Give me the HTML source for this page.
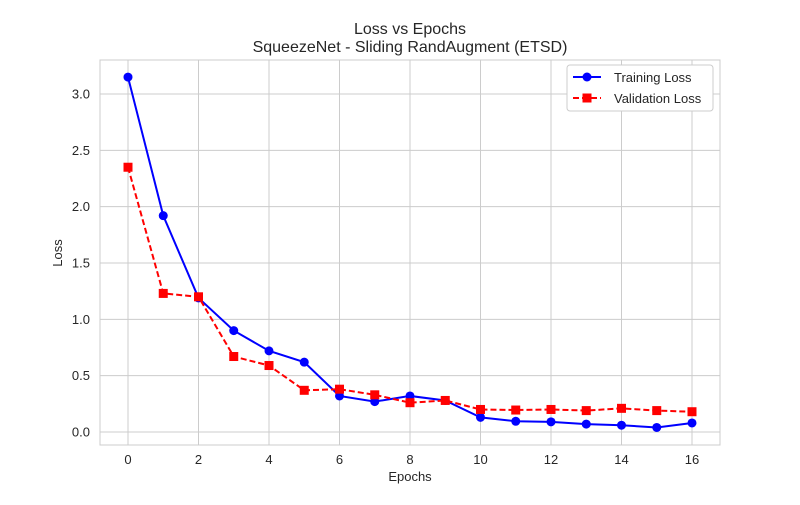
<!DOCTYPE html>
<html><head><meta charset="utf-8"><style>
body{margin:0;background:#fff;}
svg text{font-family:"Liberation Sans",Arial,sans-serif;fill:#262626;}
</style></head><body>
<svg id="chart" width="800" height="500" xmlns="http://www.w3.org/2000/svg"></svg>
<script>
const epochs=[0,1,2,3,4,5,6,7,8,9,10,11,12,13,14,15,16];
const trainLoss=[3.15,1.92,1.19,0.90,0.72,0.62,0.32,0.27,0.32,0.28,0.13,0.095,0.09,0.07,0.06,0.04,0.08];
const valLoss=[2.35,1.23,1.20,0.67,0.59,0.37,0.38,0.33,0.26,0.28,0.20,0.195,0.20,0.19,0.21,0.19,0.18];
const xTicks=[0,2,4,6,8,10,12,14,16];
const yTicks=[0.0,0.5,1.0,1.5,2.0,2.5,3.0];
const L=100,R=720,T=60,B=445;
const xs=v=>128+v*(692-128)/16;
const ys=v=>432-v*(432-94)/3;
const svg=document.getElementById('chart');
const NS='http://www.w3.org/2000/svg';
function mk(tag,attrs,parent){const e=document.createElementNS(NS,tag);for(const k in attrs)e.setAttribute(k,attrs[k]);(parent||svg).appendChild(e);return e;}
let g=mk('g',{});


xTicks.forEach(t=>{
 mk('line',{x1:xs(t),x2:xs(t),y1:T,y2:B,stroke:'#cccccc','stroke-width':1},g);
 const tx=mk('text',{x:xs(t),y:B+19,'text-anchor':'middle','font-size':13});tx.textContent=t;
 
 
});
yTicks.forEach(t=>{
 mk('line',{x1:L,x2:R,y1:ys(t),y2:ys(t),stroke:'#cccccc','stroke-width':1},g);
 const tx=mk('text',{x:L-10,y:ys(t)+4.5,'text-anchor':'end','font-size':13});tx.textContent=t.toFixed(1);
 
 
});
const fr=mk('rect',{x:L,y:T,width:R-L,height:B-T,fill:'none',stroke:'#cccccc','stroke-width':1});


function series(data,color,dash,marker,name){
 const sg=mk('g',{});
 
 
 mk('polyline',{points:data.map((v,i)=>xs(epochs[i])+','+ys(v)).join(' '),fill:'none',stroke:color,'stroke-width':2,'stroke-dasharray':dash},sg);
 data.forEach((v,i)=>{
  let m;
  if(marker==='o')m=mk('circle',{cx:xs(epochs[i]),cy:ys(v),r:4.5,fill:color},sg);
  else m=mk('rect',{x:xs(epochs[i])-4.5,y:ys(v)-4.5,width:9,height:9,fill:color},sg);
  
  
 });
}
series(trainLoss,'#0000ff','','o','training-loss-series');
series(valLoss,'#ff0000','6,3','s','validation-loss-series');
function txt(x,y,s,size,anchor,name,rot){const t=mk('text',{x:x,y:y,'font-size':size,'text-anchor':anchor});if(rot)t.setAttribute('transform',rot);t.textContent=s;return t;}
txt(410,34,'Loss vs Epochs',16,'middle','chart-title');
txt(410,52,'SqueezeNet - Sliding RandAugment (ETSD)',16,'middle','chart-subtitle');
txt(410,481,'Epochs',13,'middle','x-axis-title');
txt(62,253,'Loss',13,'middle','y-axis-title','rotate(-90 62 253)');
const lg=mk('g',{});


mk('rect',{x:567,y:65,width:146,height:46,rx:3,fill:'#fff',stroke:'#cccccc'},lg);
mk('line',{x1:573,x2:601,y1:77,y2:77,stroke:'#0000ff','stroke-width':2},lg);
mk('circle',{cx:587,cy:77,r:4.5,fill:'#0000ff'},lg);
txt(614,82,'Training Loss',13,'start','legend-training-loss');
mk('line',{x1:573,x2:601,y1:98,y2:98,stroke:'#ff0000','stroke-width':2,'stroke-dasharray':'6,3'},lg);
mk('rect',{x:582.5,y:93.5,width:9,height:9,fill:'#ff0000'},lg);
txt(614,103,'Validation Loss',13,'start','legend-validation-loss');
</script>
</body></html>
